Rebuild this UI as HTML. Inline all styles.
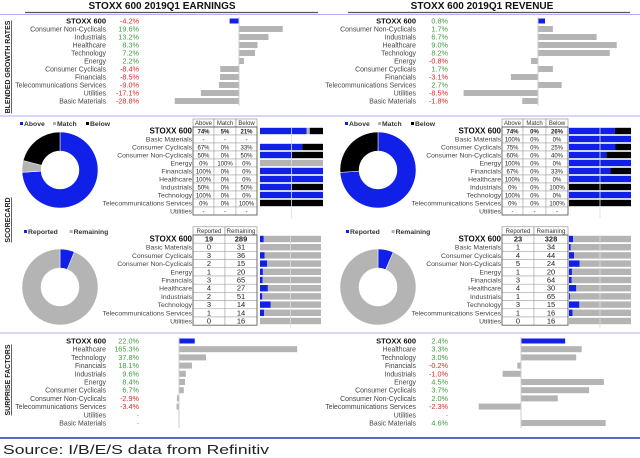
<!DOCTYPE html>
<html><head><meta charset="utf-8">
<style>
html,body{margin:0;padding:0;background:#fff;}
svg{display:block;font-family:"Liberation Sans",Arial,sans-serif;}
</style></head>
<body>
<svg id="root" width="640" height="458" viewBox="0 0 640 458" xmlns="http://www.w3.org/2000/svg"></svg>
<script>
// ---- data ----
const growthLabels = ["STOXX 600","Consumer Non-Cyclicals","Industrials","Healthcare","Technology","Energy","Consumer Cyclicals","Financials","Telecommunications Services","Utilities","Basic Materials"];
const earnGrowth = [-4.2,19.6,13.2,8.3,7.2,2.2,-8.4,-8.5,-9.0,-17.1,-28.8];
const revGrowth = [0.8,1.7,6.7,9.0,8.2,-0.8,1.7,-3.1,2.7,-8.5,-1.8];

const scoreLabels = ["STOXX 600","Basic Materials","Consumer Cyclicals","Consumer Non-Cyclicals","Energy","Financials","Healthcare","Industrials","Technology","Telecommunications Services","Utilities"];
const earnAbove = [74,null,67,50,0,100,100,50,100,0,null];
const earnMatch = [5,null,0,0,100,0,0,0,0,0,null];
const earnBelow = [21,null,33,50,0,0,0,50,0,100,null];
const revAbove = [74,100,75,60,100,67,100,0,100,0,null];
const revMatch = [0,0,0,0,0,0,0,0,0,0,null];
const revBelow = [26,0,25,40,0,33,0,100,0,100,null];

const earnReported = [19,0,3,2,1,3,4,2,3,1,0];
const earnRemaining = [289,31,36,15,20,65,27,51,14,14,16];
const revReported = [23,1,4,5,1,3,4,1,3,1,0];
const revRemaining = [328,34,44,24,20,64,30,65,15,16,16];

const surpLabels = ["STOXX 600","Healthcare","Technology","Financials","Industrials","Energy","Consumer Cyclicals","Consumer Non-Cyclicals","Telecommunications Services","Utilities","Basic Materials"];
const earnSurprise = [22.0,165.3,37.8,18.1,9.6,8.4,6.7,-2.9,-3.4,null,null];
const revSurprise = [2.4,3.3,3.0,-0.2,-1.0,4.5,3.7,2.0,-2.3,null,4.6];

// ---- helpers ----
const NS="http://www.w3.org/2000/svg";
const root=document.getElementById('root');
const BLUE="#1020e8", GRAY="#b4b4b4", BLACK="#000", GREEN="#3f9a3f", RED="#e02828";
function mk(tag,attrs,parent){const e=document.createElementNS(NS,tag);for(const k in attrs)e.setAttribute(k,attrs[k]);(parent||root).appendChild(e);return e;}
function txt(s,x,y,anchor,size,fill,weight,parent){const t=mk('text',{x:x,y:y,'text-anchor':anchor,'font-size':size,fill:fill||'#333','font-weight':weight||'normal'},parent);t.textContent=s;return t;}
function line(x1,y1,x2,y2,stroke,w){return mk('line',{x1:x1,y1:y1,x2:x2,y2:y2,stroke:stroke,'stroke-width':w||1});}

// ---- titles ----
let t=txt("STOXX 600 2019Q1 EARNINGS",162,9,'middle',10,'#111','bold');


t=txt("STOXX 600 2019Q1 REVENUE",482,9,'middle',10,'#111','bold');


line(25,12.5,318,12.5,'#555',1.2);
line(348,12.5,630,12.5,'#555',1.2);
line(0,14.5,640,14.5,'#aab4ee',1);

line(0,116,640,116,'#aab4ee',1);
line(0,333,640,333,'#aab4ee',1);
line(0,438,640,438,'#2233bb',1.5);

function sideLabel(s,cy,name){const g=mk('g',{transform:`translate(10,${cy}) rotate(-90)`});const tt=txt(s,0,0,'middle',7,'#222','bold',g);tt.setAttribute('text-decoration','underline');}
sideLabel("BLENDED GROWTH RATES",67,'blended-growth-label');
sideLabel("SCORECARD",220,'scorecard-label');
sideLabel("SURPRISE FACTORS",380,'surprise-factors-label');

// ---- horizontal bar panels ----
function barPanel(labels,vals,o){
  const g=mk('g',{});
  
  
  const yAt=i=>o.y0+i*o.dy;
  const xAt=v=>o.zero+v*o.scale;
  line(o.zero,yAt(0)-4,o.zero,yAt(labels.length-1)+5,'#ccc',1);
  labels.forEach((lab,i)=>{
    const y=yAt(i);
    const l=txt(lab,o.labelX,y+2.5,'end',i===0?7.5:6.9,i===0?'#111':'#444',i===0?'bold':'normal',g);
    
    
    const v=vals[i];
    const vt=txt(v===null?'-':v.toFixed(1)+'%',o.valX,y+2.5,'end',7.3,v===null?'#999':(v>=0?GREEN:RED),'normal',g);
    
    
    if(v!==null){
      const x1=Math.min(xAt(0),xAt(v)), w=Math.abs(xAt(v)-xAt(0));
      const r=mk('rect',{x:x1,y:y-(i===0?2.5:3),width:Math.max(w,0.5),height:i===0?5:6,fill:i===0?BLUE:GRAY},g);
      
      
    }
  });
}
barPanel(growthLabels,earnGrowth,{name:'earnings-growth-chart',y0:21,dy:8,labelX:106,valX:139,zero:239,scale:2.23});
barPanel(growthLabels,revGrowth,{name:'revenue-growth-chart',y0:21,dy:8,labelX:416,valX:448,zero:538,scale:8.75});
barPanel(surpLabels,earnSurprise,{name:'earnings-surprise-chart',y0:341,dy:8.2,labelX:106,valX:139,zero:179,scale:0.715});
barPanel(surpLabels,revSurprise,{name:'revenue-surprise-chart',y0:341,dy:8.2,labelX:416,valX:448,zero:521,scale:18.4});

// ---- donut ----
function donut(vals,colors,cx,cy,name){
  const g=mk('g',{});
  
  
  const R=38,r=19,tot=vals.reduce((a,b)=>a+b,0);
  let a0=0;
  vals.forEach((v,i)=>{
    if(v<=0)return;
    const a1=a0+v/tot*2*Math.PI;
    const p=(a,rr)=>[cx+rr*Math.sin(a),cy-rr*Math.cos(a)];
    const big=(a1-a0)>Math.PI?1:0;
    const [x0,y0]=p(a0,R),[x1,y1]=p(a1,R),[x2,y2]=p(a1,r),[x3,y3]=p(a0,r);
    const d=`M${x0},${y0}A${R},${R} 0 ${big} 1 ${x1},${y1}L${x2},${y2}A${r},${r} 0 ${big} 0 ${x3},${y3}Z`;
    const s=mk('path',{d:d,fill:colors[i],stroke:'#fff','stroke-width':0.5},g);
    
    
    a0=a1;
  });
}
function legend(items,colors,x,y,name){
  const g=mk('g',{});
  
  
  let cx=x;
  items.forEach((s,i)=>{
    mk('rect',{x:cx,y:y-4,width:3,height:3,fill:colors[i]},g);
    const tt=txt(s,cx+4,y,'start',6.8,'#333','bold',g);
    
    
    cx+=4+s.length*4.2+8;
  });
}
legend(["Above","Match","Below"],[BLUE,GRAY,BLACK],20,126,'scorecard-earnings-legend');
legend(["Above","Match","Below"],[BLUE,GRAY,BLACK],345,126,'scorecard-revenue-legend');
legend(["Reported","Remaining"],[BLUE,GRAY],24,234,'reported-earnings-legend');
legend(["Reported","Remaining"],[BLUE,GRAY],346,234,'reported-revenue-legend');
donut([earnAbove[0],earnMatch[0],earnBelow[0]],[BLUE,GRAY,BLACK],60,170,'earnings-scorecard-donut');
donut([revAbove[0],revMatch[0],revBelow[0]],[BLUE,GRAY,BLACK],378,170,'revenue-scorecard-donut');
donut([earnReported[0],earnRemaining[0]],[BLUE,GRAY],60,287,'earnings-reported-donut');
donut([revReported[0],revRemaining[0]],[BLUE,GRAY],378,287,'revenue-reported-donut');

// ---- tables ----
function table(labels,cols,headers,o){
  const g=mk('g',{});
  
  
  const n=labels.length;
  const hTop=o.y0-o.dy-4, rowTop=o.y0-4;
  for(let c=0;c<headers.length;c++){
    mk('rect',{x:o.cx[c],y:hTop,width:o.cx[c+1]-o.cx[c],height:o.dy,fill:'#fff',stroke:'#888','stroke-width':0.6},g);
    const h=txt(headers[c],(o.cx[c]+o.cx[c+1])/2,hTop+o.dy-2,'middle',6,'#333','normal',g);
    
    
  }
  line(o.bx+o.bw/2,rowTop,o.bx+o.bw/2,rowTop+n*o.dy+3,'#ddd',0.8);
  for(let i=0;i<n;i++){
    const y=o.y0+i*o.dy;
    const l=txt(labels[i],o.cx[0]-1,y+2.5,'end',i===0?8:6.8,i===0?'#111':'#444',i===0?'bold':'normal',g);
    
    
    for(let c=0;c<cols.length;c++){
      mk('rect',{x:o.cx[c],y:y-4,width:o.cx[c+1]-o.cx[c],height:o.dy,fill:'#fff',stroke:'#999','stroke-width':0.5},g);
      const v=cols[c][i];
      const s=v===null?'-':(o.pct?v+'%':String(v));
      const ct=txt(s,(o.cx[c]+o.cx[c+1])/2,y+2.5,'middle',o.pct?6:7.5,'#222',i===0?'bold':'normal',g);
      
      
    }
    const vals=cols.map(cc=>cc[i]);
    if(vals[0]===null)continue;
    const tot=vals.reduce((a,b)=>a+b,0);
    let x=o.bx;
    vals.forEach((v,k)=>{
      const w=tot?v/tot*o.bw:0;
      if(w<=0)return;
      const r=mk('rect',{x:x,y:y-3.2,width:w,height:6.4,fill:o.colors[k]},g);
      
      
      x+=w;
    });
    if(tot===0&&o.always){const r=mk('rect',{x:o.bx,y:y-3.2,width:o.bw,height:6.4,fill:GRAY},g);}
  }
  mk('rect',{x:o.cx[0],y:rowTop,width:o.cx[o.cx.length-1]-o.cx[0],height:n*o.dy,fill:'none',stroke:'#555','stroke-width':0.8},g);
}
table(scoreLabels,[earnAbove,earnMatch,earnBelow],["Above","Match","Below"],{name:'earnings-scorecard-table',y0:131,dy:8,cx:[193,214,236,257],bx:260,bw:63,pct:true,colors:[BLUE,GRAY,BLACK]});
table(scoreLabels,[revAbove,revMatch,revBelow],["Above","Match","Below"],{name:'revenue-scorecard-table',y0:131,dy:8,cx:[502,523,546,568],bx:569,bw:62,pct:true,colors:[BLUE,GRAY,BLACK]});
table(scoreLabels,[earnReported,earnRemaining],["Reported","Remaining"],{name:'earnings-reported-table',y0:239,dy:8.2,cx:[193,225,257],bx:260,bw:61,pct:false,always:true,colors:[BLUE,GRAY]});
table(scoreLabels,[revReported,revRemaining],["Reported","Remaining"],{name:'revenue-reported-table',y0:239,dy:8.2,cx:[502,534,568],bx:569,bw:62,pct:false,always:true,colors:[BLUE,GRAY]});

t=txt("Source: I/B/E/S data from Refinitiv",3,454,'start',13,'#222','normal');
t.setAttribute('textLength','266');
t.setAttribute('lengthAdjust','spacingAndGlyphs');


</script>
</body></html>
